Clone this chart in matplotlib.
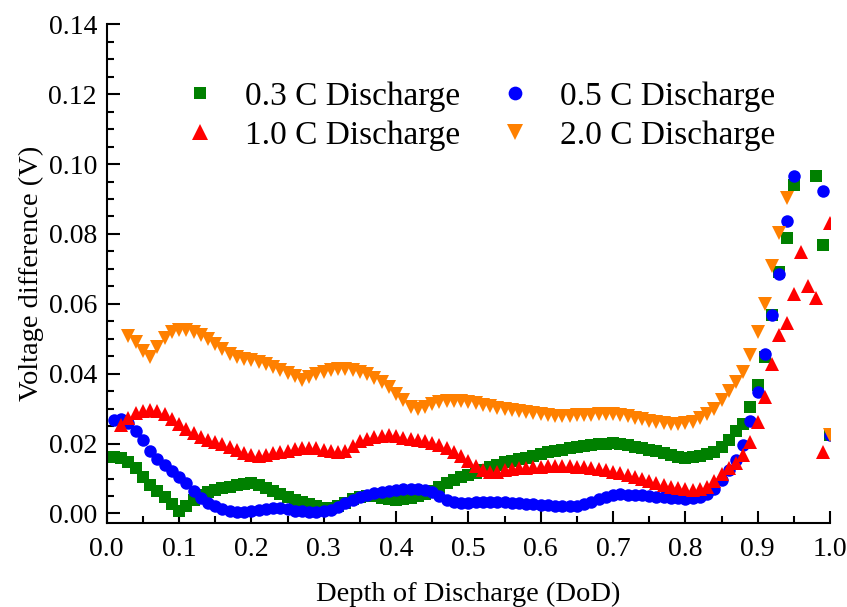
import numpy as np
import matplotlib
matplotlib.use("Agg")
import matplotlib.pyplot as plt
from matplotlib.ticker import MultipleLocator

plt.rcParams['font.family'] = ['Liberation Serif', 'DejaVu Serif']
plt.rcParams['mathtext.fontset'] = 'stix'

nan = np.nan

# depth of discharge grid, 0.01 .. 1.00
dod = [round(0.01 * i, 2) for i in range(1, 101)]

# 0.3 C discharge
v_03c = [0.0162, 0.0160, 0.0148, 0.0130, 0.0105, 0.0080, 0.0065, 0.0047, 0.0028, 0.0008,
         0.0020, 0.0038, 0.0052, 0.0062, 0.0068, 0.0073, 0.0077, 0.0081, 0.0085, 0.0087,
         0.0080, 0.0072, 0.0064, 0.0056, 0.0048, 0.0038, 0.0032, 0.0026, 0.0021, 0.0016,
         0.0015, 0.0020, 0.0030, 0.0040, 0.0047, 0.0051, 0.0050, 0.0045, 0.0040, 0.0038,
         0.0040, 0.0045, 0.0050, 0.0056, 0.0065, 0.0077, 0.0088, 0.0097, 0.0104, 0.0110,
         0.0116, 0.0125, 0.0133, 0.0140, 0.0146, 0.0150, 0.0155, 0.0160, 0.0165, 0.0170,
         0.0175, 0.0180, 0.0183, 0.0187, 0.0190, 0.0193, 0.0196, 0.0198, 0.0200, 0.0201,
         0.0198, 0.0195, 0.0190, 0.0187, 0.0183, 0.0178, 0.0172, 0.0166, 0.0162, 0.0160,
         0.0161, 0.0164, 0.0169, 0.0176, 0.0189, 0.0210, 0.0235, 0.0255, 0.0305, 0.0368,
         0.0448, 0.0567, 0.0690, 0.0789, 0.0940, nan, nan, 0.0967, 0.0768, 0.0224]

# 0.5 C discharge
v_05c = [0.0267, 0.0270, 0.0258, 0.0236, 0.0210, 0.0178, 0.0157, 0.0138, 0.0122, 0.0105,
         0.0086, 0.0063, 0.0044, 0.0030, 0.0020, 0.0013, 0.0008, 0.0004, 0.0005, 0.0008,
         0.0010, 0.0012, 0.0015, 0.0016, 0.0013, 0.0008, 0.0006, 0.0005, 0.0005, 0.0006,
         0.0010, 0.0019, 0.0029, 0.0038, 0.0047, 0.0054, 0.0059, 0.0062, 0.0065, 0.0067,
         0.0069, 0.0070, 0.0070, 0.0067, 0.0060, 0.0049, 0.0039, 0.0032, 0.0030, 0.0031,
         0.0033, 0.0034, 0.0034, 0.0034, 0.0033, 0.0031, 0.0030, 0.0028, 0.0026, 0.0025,
         0.0023, 0.0021, 0.0020, 0.0020, 0.0022, 0.0028, 0.0034, 0.0042, 0.0048, 0.0053,
         0.0055, 0.0054, 0.0053, 0.0052, 0.0050, 0.0048, 0.0046, 0.0045, 0.0043, 0.0040,
         0.0043, 0.0048, 0.0057, 0.0071, 0.0095, 0.0124, 0.0154, 0.0197, 0.0266, 0.0349,
         0.0457, 0.0569, 0.0684, 0.0836, 0.0967, nan, nan, nan, 0.0924, 0.0224]

# 1.0 C discharge
v_10c = [nan, 0.0253, 0.0274, 0.0287, 0.0293, 0.0297, 0.0293, 0.0285, 0.0271, 0.0257,
         0.0241, 0.0229, 0.0219, 0.0211, 0.0205, 0.0198, 0.0190, 0.0181, 0.0173, 0.0167,
         0.0164, 0.0168, 0.0172, 0.0176, 0.0180, 0.0184, 0.0186, 0.0188, 0.0186, 0.0182,
         0.0179, 0.0176, 0.0180, 0.0194, 0.0207, 0.0214, 0.0219, 0.0223, 0.0224, 0.0221,
         0.0217, 0.0212, 0.0210, 0.0207, 0.0202, 0.0195, 0.0186, 0.0176, 0.0164, 0.0150,
         0.0135, 0.0123, 0.0118, 0.0120, 0.0124, 0.0127, 0.0129, 0.0131, 0.0133, 0.0134,
         0.0135, 0.0135, 0.0135, 0.0135, 0.0134, 0.0133, 0.0131, 0.0128, 0.0124, 0.0120,
         0.0115, 0.0110, 0.0104, 0.0098, 0.0092, 0.0087, 0.0082, 0.0077, 0.0073, 0.0070,
         0.0068, 0.0070, 0.0076, 0.0093, 0.0114, 0.0131, 0.0145, 0.0167, 0.0205, 0.0262,
         0.0333, 0.0427, 0.0510, 0.0546, 0.0629, 0.0747, 0.0650, 0.0616, 0.0176, 0.0831]

# 2.0 C discharge
v_20c = [nan, nan, 0.0507, 0.0490, 0.0464, 0.0448, 0.0476, 0.0503, 0.0519, 0.0524,
         0.0524, 0.0519, 0.0512, 0.0500, 0.0486, 0.0471, 0.0457, 0.0448, 0.0443, 0.0438,
         0.0433, 0.0427, 0.0419, 0.0411, 0.0402, 0.0392, 0.0383, 0.0390, 0.0398, 0.0405,
         0.0410, 0.0412, 0.0412, 0.0410, 0.0405, 0.0398, 0.0389, 0.0376, 0.0362, 0.0343,
         0.0324, 0.0306, 0.0299, 0.0305, 0.0313, 0.0318, 0.0321, 0.0322, 0.0321, 0.0319,
         0.0315, 0.0310, 0.0307, 0.0303, 0.0300, 0.0297, 0.0294, 0.0291, 0.0288, 0.0286,
         0.0283, 0.0280, 0.0280, 0.0280, 0.0281, 0.0282, 0.0283, 0.0284, 0.0285, 0.0285,
         0.0282, 0.0278, 0.0274, 0.0270, 0.0266, 0.0262, 0.0258, 0.0257, 0.0256, 0.0258,
         0.0263, 0.0272, 0.0284, 0.0300, 0.0325, 0.0350, 0.0375, 0.0405, 0.0453, 0.0519,
         0.0600, 0.0708, 0.0802, 0.0902, nan, nan, nan, nan, nan, 0.0224]

fig = plt.figure(figsize=(8.47, 6.07), dpi=100)
ax = fig.add_axes([0.126, 0.138, 0.854, 0.822])

l1, = ax.plot(dod, v_03c, 's', color='#008000', ms=8.5, mew=0, label='0.3 C Discharge')
l2, = ax.plot(dod, v_05c, 'o', color='#0000ff', ms=9, mew=0, label='0.5 C Discharge')
l3, = ax.plot(dod, v_10c, '^', color='#ff0000', ms=10.5, mew=0, label='1.0 C Discharge')
l4, = ax.plot(dod, v_20c, 'v', color='#ff8000', ms=10.5, mew=0, label='2.0 C Discharge')

ax.set_xlim(0, 1.0)
ax.set_ylim(-0.0028, 0.14)
ax.xaxis.set_major_locator(MultipleLocator(0.1))
ax.xaxis.set_minor_locator(MultipleLocator(0.05))
ax.yaxis.set_major_locator(MultipleLocator(0.02))
ax.yaxis.set_minor_locator(MultipleLocator(0.005))
ax.xaxis.set_major_formatter(plt.FuncFormatter(lambda v, p: '%.1f' % v))
ax.yaxis.set_major_formatter(plt.FuncFormatter(lambda v, p: '%.2f' % v))

for s in ['top', 'right']:
    ax.spines[s].set_visible(False)
for s in ['left', 'bottom']:
    ax.spines[s].set_linewidth(1.5)

ax.tick_params(which='both', direction='in', width=1.5, labelsize=20)
ax.tick_params(which='major', length=9)
ax.tick_params(which='minor', length=5)
ax.tick_params(axis='x', which='major', pad=10)
ax.tick_params(axis='y', which='major', pad=7)

ax.set_xlabel('Depth of Discharge (DoD)', fontsize=20.5, labelpad=14)
ax.set_ylabel('Voltage difference (V)', fontsize=20.5, labelpad=3)

ax.legend(handles=[l1, l3, l2, l4], ncol=2, loc='upper left',
          bbox_to_anchor=(0.067, 0.946), frameon=False, fontsize=24,
          handlelength=0.9, handletextpad=0.9, columnspacing=1.19,
          labelspacing=0.25, borderpad=0.4, markerscale=1.1)

fig.savefig('out.png', dpi=100)
